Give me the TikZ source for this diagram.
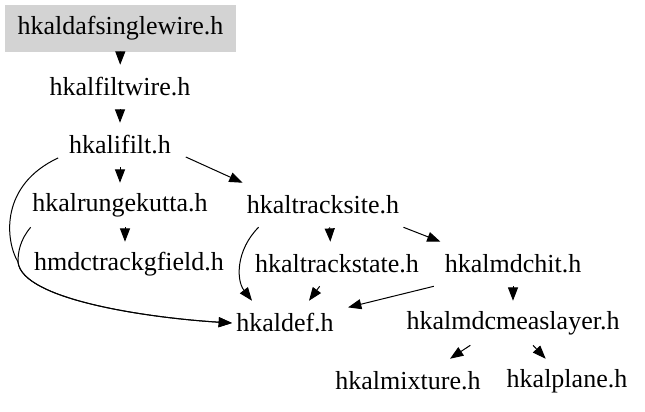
\documentclass[tikz,border=0pt]{standalone}
\usepackage{fontspec}
\setmainfont{Liberation Serif}
\usetikzlibrary{arrows.meta}
\tikzset{
	file/.style={font=\fontsize{19.5}{22}\selectfont, minimum height=33pt, inner xsep=3pt},
	edge/.style={-{Triangle[length=10pt,width=7.5pt]}, line width=0.75pt}
}
\begin{document}
\begin{tikzpicture}[x=0.75pt, y=-0.75pt]
			\useasboundingbox (0,0) rectangle (645,411);
			
			% the file whose graph this is
			\node[file, fill={rgb,255:red,211;green,211;blue,211}, minimum width=173pt, minimum height=35pt] (dafsinglewire) at (120.5,28.5) {hkaldafsinglewire.h};
			
			\foreach \name/\x/\y/\label in {
				filtwire/120/87/hkalfiltwire.h,
				ifilt/120/145/hkalifilt.h,
				rungekutta/120/205/hkalrungekutta.h,
				tracksite/323/205/hkaltracksite.h,
				gfield/129/264/hmdctrackgfield.h,
				trackstate/337/264/hkaltrackstate.h,
				mdchit/513/264/hkalmdchit.h,
				kaldef/285/323/hkaldef.h,
				measlayer/513/323/hkalmdcmeaslayer.h,
				mixture/408/381/hkalmixture.h,
				plane/567/381/hkalplane.h}
			{
				\node[file] (\name) at (\x,\y) {\label};
			}
			
			% straight down
			\foreach \a/\b in {dafsinglewire/filtwire, filtwire/ifilt, ifilt/rungekutta, mdchit/measlayer}
			{
				\draw[edge] (\a) -- (\b);
			}
			
			\draw[edge] ([xshift=3.75pt]rungekutta.south) -- ([xshift=-3pt]gfield.north);
			\draw[edge] ([xshift=5pt]tracksite.south) -- ([xshift=-5pt]trackstate.north);
			\draw[edge] ([xshift=8pt,yshift=-9pt]ifilt.east) -- (tracksite.north west);
			\draw[edge] (tracksite.south east) -- (mdchit.north west);
			\draw[edge] ([xshift=-5pt]mdchit.south west) -- ([xshift=7.5pt,yshift=-5pt]kaldef.north east);
			\draw[edge] ([xshift=-13pt]trackstate.south) -- ([xshift=18pt]kaldef.north);
			\draw[edge] ([xshift=-32pt]measlayer.south) -- ([xshift=31.5pt]mixture.north);
			\draw[edge] ([xshift=15pt]measlayer.south) -- ([xshift=-16pt]plane.north);
			
			% long way round on the left
			\draw[edge] ([xshift=-5pt,yshift=7pt]ifilt.south west) .. controls (0,185) and (5,240) .. (18,262)
			.. controls (22,300) and (150,318) .. (kaldef.west);
			\draw[edge] ([xshift=2pt]rungekutta.south west) .. controls (20,240) and (18,252) .. (18,262)
			.. controls (22,300) and (150,318) .. (kaldef.west);
			\draw[edge] ([xshift=12pt]tracksite.south west) .. controls (236,250) and (236,280) .. ([xshift=15pt]kaldef.north west);
			\end{tikzpicture}
\end{document}
